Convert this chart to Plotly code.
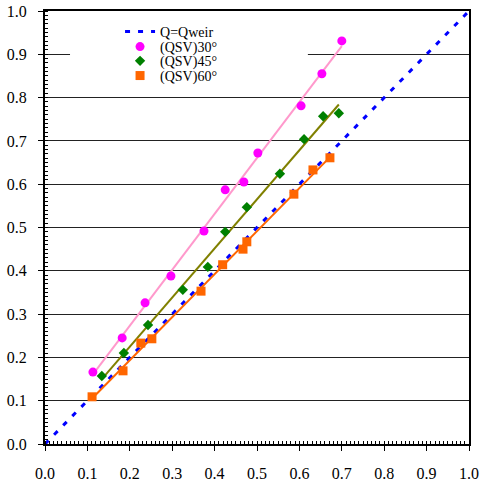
import numpy as np
import plotly.graph_objects as go

# Data
x30 = [0.113, 0.182, 0.236, 0.297, 0.375, 0.425, 0.469, 0.502, 0.604, 0.653, 0.700]
y30 = [0.166, 0.245, 0.326, 0.388, 0.492, 0.587, 0.605, 0.672, 0.781, 0.855, 0.931]

x45 = [0.134, 0.186, 0.243, 0.325, 0.384, 0.425, 0.476, 0.554, 0.611, 0.656, 0.693]
y45 = [0.157, 0.210, 0.275, 0.356, 0.409, 0.490, 0.547, 0.624, 0.704, 0.757, 0.764]

x60 = [0.111, 0.184, 0.226, 0.252, 0.368, 0.419, 0.467, 0.476, 0.587, 0.632, 0.672]
y60 = [0.109, 0.169, 0.233, 0.243, 0.353, 0.414, 0.450, 0.467, 0.577, 0.633, 0.661]

weir_x = [0.0, 1.0]
weir_y = [0.0, 1.0]

ticks = [round(0.1 * i, 1) for i in range(11)]
tick_text = [f"{t:.1f}" for t in ticks]

FONT = "Liberation Serif"

def fit(xs, ys):
    a, b = np.polyfit(xs, ys, 1)
    xx = [min(xs), max(xs)]
    return xx, [a * v + b for v in xx]

fig = go.Figure()

fig.add_trace(go.Scatter(x=weir_x, y=weir_y, mode="lines", name="Q=Qweir", legend="legend",
                         line=dict(color="#0000FF", width=3, dash="5px,8px")))

for xs, ys, col in [(x30, y30, "#FF99CC"), (x45, y45, "#808000"), (x60, y60, "#FF6600")]:
    fx, fy = fit(xs, ys)
    fig.add_trace(go.Scatter(x=fx, y=fy, mode="lines", showlegend=False,
                             line=dict(color=col, width=2), hoverinfo="skip"))

fig.add_trace(go.Scatter(x=x30, y=y30, mode="markers", name="(QSV)30°", legend="legend2",
                         marker=dict(symbol="circle", color="#FF00FF", size=9)))
fig.add_trace(go.Scatter(x=x45, y=y45, mode="markers", name="(QSV)45°", legend="legend3",
                         marker=dict(symbol="diamond", color="#008000", size=8)))
fig.add_trace(go.Scatter(x=x60, y=y60, mode="markers", name="(QSV)60°", legend="legend4",
                         marker=dict(symbol="square", color="#FF6600", size=9)))

# white panel behind legend (covers grid line, as in the original)
fig.add_shape(type="rect", xref="x", yref="y", x0=0.059, x1=0.62, y0=0.865, y1=0.975,
              fillcolor="white", line=dict(width=0), layer="between")

tick_font = dict(family="Liberation Serif", size=16, color="black")

axis_common = dict(
    range=[0, 1], tickmode="array", tickvals=ticks, ticktext=tick_text, automargin=False,
    showline=True, linecolor="black", linewidth=2, mirror=True,
    ticks="outside", ticklen=5, tickcolor="black", tickwidth=1,
    minor=dict(ticks="inside", dtick=0.01, ticklen=3, tickcolor="black", tickwidth=1, showgrid=False),
    zeroline=False,
)

fig.update_xaxes(**axis_common, showgrid=False, ticklabelstandoff=9, tickfont=tick_font)
fig.update_yaxes(**axis_common, showgrid=True, gridcolor="#222222", gridwidth=1,
                 ticklabelstandoff=8, tickfont=tick_font)

leg_x = 0.177
leg_font = dict(family=FONT, size=14, color="black")
def leg(y):
    return dict(x=leg_x, y=y, xanchor="left", yanchor="middle",
                bgcolor="rgba(0,0,0,0)", font=leg_font, itemwidth=30)

fig.update_layout(
    width=481, height=481,
    margin=dict(l=45, r=12, t=11, b=37),
    plot_bgcolor="white", paper_bgcolor="white",
    font=dict(family=FONT, size=14, color="black"),
    legend=leg(0.9515), legend2=leg(0.9169), legend3=leg(0.884), legend4=leg(0.850),
    showlegend=True,
)

fig.write_html("out.html")
